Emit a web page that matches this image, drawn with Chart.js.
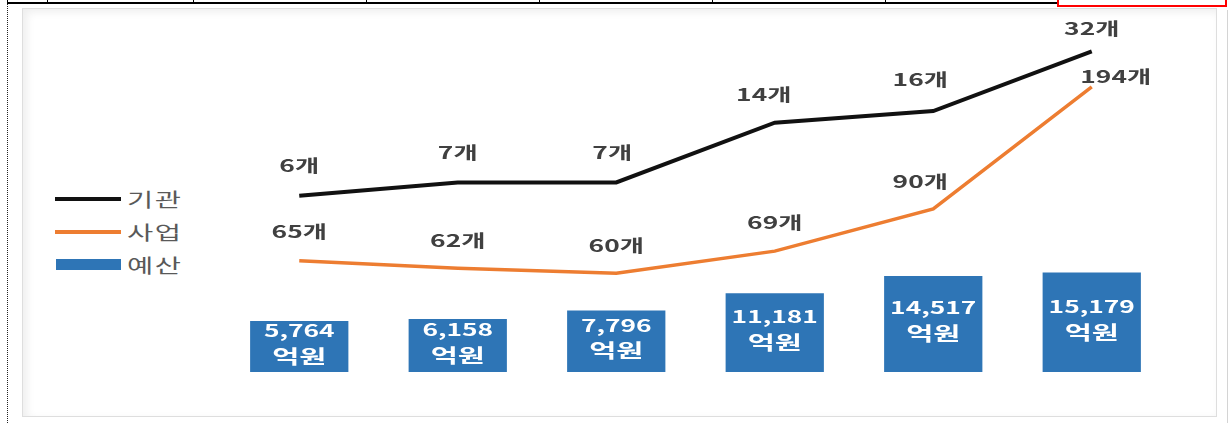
<!DOCTYPE html>
<html>
<head>
<meta charset="utf-8">
<script src="https://cdn.jsdelivr.net/npm/chart.js@4.4.0/dist/chart.umd.min.js"></script>
<style>
  body { margin: 0; background: #fff; }
  #wrap { position: relative; width: 1231px; height: 423px; overflow: hidden; font-family: "Noto Sans CJK KR", sans-serif; }
  .abs { position: absolute; }
  .vtick { position: absolute; top: 0; width: 0; height: 3px; border-left: 1px solid #000; }
  .legtext { position: absolute; left: 127px; font-size: 19px; color: #595959; letter-spacing: 1px; line-height: 20px;
             transform: scaleX(1.5); transform-origin: left center; }
</style>
</head>
<body>
<div id="wrap">
  <!-- table row on top -->
  <div class="abs" style="left:7px;top:2px;width:1050px;border-top:2px solid #000;"></div>
  <div class="vtick" style="left:7px"></div>
  <div class="vtick" style="left:47px"></div>
  <div class="vtick" style="left:193px"></div>
  <div class="vtick" style="left:366px"></div>
  <div class="vtick" style="left:539px"></div>
  <div class="vtick" style="left:712px"></div>
  <div class="vtick" style="left:885px"></div>
  <div class="abs" style="left:1057px;top:-3px;width:166px;height:6px;border:2.5px solid #ff0000;"></div>
  <div class="abs" style="left:7px;top:4px;height:419px;border-left:1px dotted #222;"></div>
  <div class="abs" style="left:1227px;top:10px;height:413px;border-left:1px solid #d4d4d4;"></div>
  <!-- chart frame -->
  <div class="abs" style="left:22px;top:8px;width:1193px;height:407px;border:1px solid #dedede;box-shadow:inset 4px 3px 8px rgba(0,0,0,0.07);"></div>

  <!-- legend -->
  <div class="abs" style="left:55px;top:197px;width:66px;height:4px;background:#111;"></div>
  <div class="legtext" style="top:189px">기관</div>
  <div class="abs" style="left:55px;top:230px;width:66px;height:4px;background:#ed7d31;"></div>
  <div class="legtext" style="top:222px">사업</div>
  <div class="abs" style="left:56px;top:259px;width:65px;height:11px;background:#2e75b6;"></div>
  <div class="legtext" style="top:255px">예산</div>

  <canvas id="mixChart" class="abs" style="left:0;top:0" width="1231" height="423"></canvas>
</div>
<script>
var categories = ['1', '2', '3', '4', '5', '6'];
var agencies = [6, 7, 7, 14, 16, 32];          // 기관 (개)
var projects = [65, 62, 60, 69, 90, 194];      // 사업 (개)
var budget = [5764, 6158, 7796, 11181, 14517, 15179]; // 예산 (억원)

var ctx = document.getElementById('mixChart').getContext('2d');

// label offsets (px) relative to each point
var agencyShift = [[0, -30], [0, -30], [-4, -30], [-11, -28], [-13, -32], [0, -23]];
var projectShift = [[0, -29], [0, -28], [0, -28], [0, -29], [-13, -27], [24, -10]];
var stretch = 1.55; // source picture is stretched horizontally

function wideText(c, txt, x, y) {
  c.save();
  c.translate(x, y);
  c.scale(stretch, 1);
  c.fillText(txt, 0, 0);
  c.restore();
}

var labelPlugin = {
  id: 'valueLabels',
  afterDatasetsDraw: function (chart) {
    var c = chart.ctx;
    c.save();
    c.textAlign = 'center';
    c.textBaseline = 'middle';

    // line labels
    [[0, agencies, agencyShift], [1, projects, projectShift]].forEach(function (item) {
      var meta = chart.getDatasetMeta(item[0]);
      c.fillStyle = '#404040';
      c.font = 'bold 17px "Noto Sans CJK KR", sans-serif';
      meta.data.forEach(function (pt, i) {
        wideText(c, item[1][i] + '개', pt.x + item[2][i][0], pt.y + item[2][i][1]);
      });
    });

    // bar labels
    var barMeta = chart.getDatasetMeta(2);
    c.fillStyle = '#ffffff';
    barMeta.data.forEach(function (bar, i) {
      var mid = (bar.y + bar.base) / 2;
      c.font = 'bold 17px "Noto Sans CJK KR", sans-serif';
      wideText(c, budget[i].toLocaleString('en-US'), bar.x, mid - 16);
      c.font = 'bold 19px "Noto Sans CJK KR", sans-serif';
      wideText(c, '억원', bar.x, mid + 10);
    });
    c.restore();
  }
};

new Chart(ctx, {
  data: {
    labels: categories,
    datasets: [
      {
        type: 'line',
        label: '기관',
        data: agencies,
        borderColor: '#111111',
        borderWidth: 4,
        pointRadius: 0,
        tension: 0,
        yAxisID: 'yAgency'
      },
      {
        type: 'line',
        label: '사업',
        data: projects,
        borderColor: '#ed7d31',
        borderWidth: 3.5,
        pointRadius: 0,
        tension: 0,
        yAxisID: 'yProject'
      },
      {
        type: 'bar',
        label: '예산',
        data: budget,
        backgroundColor: '#2e75b6',
        base: -4190,
        categoryPercentage: 1,
        barPercentage: 0.62,
        yAxisID: 'yBudget'
      }
    ]
  },
  options: {
    responsive: false,
    animation: false,
    layout: { padding: { left: 220, right: 60, top: 20, bottom: 51 } },
    plugins: {
      legend: { display: false },
      tooltip: { enabled: false }
    },
    scales: {
      x: { type: 'category', offset: true, display: false },
      yAgency: { type: 'logarithmic', display: false, bounds: 'data', min: 0.778, max: 46 },
      yProject: { type: 'logarithmic', display: false, bounds: 'data', min: 32.24, max: 295.7 },
      yBudget: { type: 'linear', display: false, bounds: 'data', min: -4190, max: 64413 }
    }
  },
  plugins: [labelPlugin]
});
</script>
</body>
</html>
